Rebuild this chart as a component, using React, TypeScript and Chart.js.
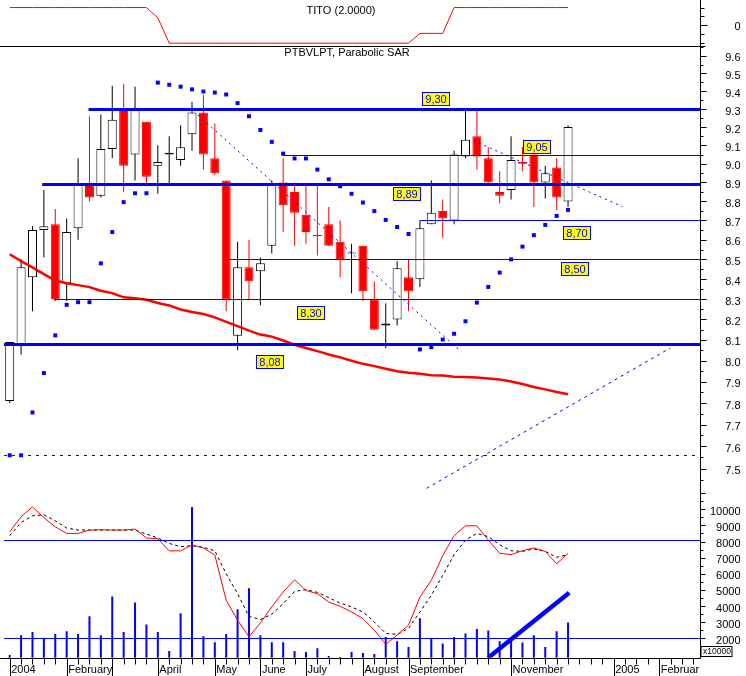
import React, { useEffect, useRef } from 'react';
import { Chart, registerables } from 'chart.js';

Chart.register(...registerables);

const FONT = '"Liberation Sans", Arial, Helvetica, sans-serif';
const RED = '#ff0000';
const BLUE = '#0000ff';

// ---- weekly bars (index 0 = week of 29 Dec 2003) ----
const weekIndex = [0,1,2,3,4,5,6,7,8,9,10,11,12,13,14,15,16,17,18,19,20,21,22,23,24,25,26,27,28,29,30,31,32,33,34,35,36,37,38,39,40,41,42,43,44,45,46,47,48,49];

const opens = [7.81, 8.07, 8.41, 8.65, 8.68, 8.38, 8.66, 8.89, 8.83, 9.08, 9.30, 9.05, 9.23, 8.99, 9.05, 9.02, 9.16, 9.28, 9.03, 8.91, 8.12, 8.46, 8.44, 8.57, 8.90, 8.85, 8.73, 8.625, 8.68, 8.59, 8.53, 8.57, 8.30, 8.17, 8.20, 8.41, 8.40, 8.68, 8.75, 8.70, 9.04, 9.15, 9.03, 8.85, 8.86, 9.01, 9.05, 8.90, 8.98, 8.80];
const highs = [8.09, 8.50, 8.67, 8.86, 8.76, 8.71, 9.03, 9.26, 9.27, 9.43, 9.44, 9.425, 9.23, 9.10, 9.15, 9.21, 9.34, 9.38, 9.22, 8.91, 8.59, 8.60, 8.51, 8.91, 9.03, 8.90, 8.885, 8.885, 8.77, 8.70, 8.58, 8.57, 8.39, 8.28, 8.49, 8.50, 8.70, 8.91, 8.81, 9.07, 9.30, 9.30, 9.09, 8.96, 9.15, 9.09, 9.05, 8.99, 9.03, 9.21];
const lows = [7.80, 8.03, 8.24, 8.51, 8.29, 8.29, 8.60, 8.80, 8.82, 9.03, 8.85, 8.91, 8.89, 8.84, 8.89, 8.99, 9.07, 8.97, 8.94, 8.24, 8.05, 8.30, 8.27, 8.53, 8.64, 8.57, 8.58, 8.52, 8.57, 8.41, 8.33, 8.29, 8.15, 8.06, 8.17, 8.24, 8.36, 8.68, 8.61, 8.68, 9.03, 8.97, 8.89, 8.79, 8.81, 8.96, 8.77, 8.815, 8.755, 8.77];
const closes = [8.09, 8.46, 8.65, 8.67, 8.30, 8.64, 8.89, 8.82, 9.08, 9.24, 8.99, 9.30, 8.93, 9.01, 9.06, 9.09, 9.28, 9.05, 8.95, 8.30, 8.46, 8.39, 8.48, 8.89, 8.78, 8.74, 8.64, 8.62, 8.57, 8.50, 8.53, 8.34, 8.15, 8.18, 8.455, 8.34, 8.66, 8.74, 8.71, 9.05, 9.13, 9.04, 8.90, 8.83, 9.02, 9.00, 8.90, 8.95, 8.82, 9.20];

const sar = [7.56, 7.56, 7.756, 7.941, 8.122, 8.272, 8.285, 8.285, 8.48, 8.64, 8.796, 8.843, 8.843, 9.448, 9.436, 9.425, 9.41, 9.398, 9.392, 9.381, 9.333, 9.26, 9.184, 9.119, 9.055, 9.029, 9.029, 8.969, 8.917, 8.88, 8.84, 8.794, 8.749, 8.703, 8.666, 8.63, 8.054, 8.065, 8.102, 8.13, 8.191, 8.283, 8.361, 8.433, 8.50, 8.565, 8.624, 8.677, 8.724, 8.755];

const movingAvg = [8.526, 8.491, 8.459, 8.425, 8.393, 8.379, 8.370, 8.360, 8.342, 8.330, 8.309, 8.304, 8.297, 8.281, 8.269, 8.249, 8.237, 8.227, 8.210, 8.188, 8.167, 8.145, 8.126, 8.116, 8.097, 8.077, 8.061, 8.046, 8.030, 8.016, 8.000, 7.985, 7.974, 7.962, 7.950, 7.943, 7.938, 7.931, 7.929, 7.924, 7.922, 7.920, 7.915, 7.910, 7.901, 7.889, 7.875, 7.864, 7.852, 7.841];

const volume = [970, 2200, 2390, 1980, 2270, 2450, 2270, 3370, 2200, 4600, 2390, 4230, 2860, 2390, 1220, 3560, 10140, 2140, 1770, 2270, 3800, 5100, 2200, 1770, 1770, 1220, 1160, 1390, 910, 850, 1160, 1100, 1030, 2080, 1820, 1470, 3250, 1960, 1690, 2080, 2310, 2590, 2490, 1830, 2080, 1750, 2200, 1470, 2450, 2990];

const oscMain = [8600, 9530, 10140, 9480, 8910, 8500, 8500, 8710, 8730, 8710, 8710, 8770, 8220, 8170, 7420, 7420, 7790, 7600, 7170, 4360, 3130, 2100, 2960, 3950, 4870, 5630, 4970, 4770, 4250, 3990, 3640, 3230, 2510, 1630, 2200, 2820, 4560, 5590, 7130, 8360, 8970, 8970, 8090, 7270, 7190, 7430, 7600, 7390, 6620, 7270];
const oscSignal = [8360, 9180, 9590, 9650, 9280, 8830, 8710, 8710, 8710, 8710, 8710, 8710, 8460, 8220, 7880, 7680, 7740, 7640, 7430, 6000, 4770, 3370, 3170, 3500, 4150, 4910, 5020, 4850, 4520, 4190, 3950, 3640, 3020, 2310, 2250, 2620, 3640, 4670, 5900, 7190, 8090, 8500, 8300, 7800, 7430, 7390, 7540, 7390, 7020, 7190];

const tito = [1, 1, 1, 1, 1, 1, 1, 1, 1, 1, 1, 1, 1, 0.42, -1, -1, -1, -1, -1, -1, -1, -1, -1, -1, -1, -1, -1, -1, -1, -1, -1, -1, -1, -1, -1, -1, -0.45, -0.45, -0.45, 1, 1, 1, 1, 1, 1, 1, 1, 1, 1, 1];

// drawn trend lines (week index, price)
const trend1 = [{ x: 16.52, y: 9.267 }, { x: 39.64, y: 8.042 }];
const trend2 = [{ x: 40.69, y: 9.126 }, { x: 53.78, y: 8.772 }];
const trend3 = [{ x: 36.59, y: 7.412 }, { x: 57.97, y: 8.061 }];
const volTrend = [{ x: 42, y: 810 }, { x: 49.1, y: 4830 }];

// support / resistance levels
const levelPrices = [9.30, 8.89, 8.08, 9.05, 8.70, 8.50, 8.30];
const levelStart = [6.92, 2.85, -0.5, 23.94, 36.0, 19.05, 3.87];
const levelHeavy = [true, true, true, false, false, false, false];
const dashedLevel = 7.56;
const oscLevels = [8120, 2000];

// level tags
const tagTexts = ['9,30', '8,89', '9,05', '8,70', '8,50', '8,30', '8,08'];
const tagIndex = [36.15, 33.68, 45.08, 48.52, 48.4, 25.18, 21.58];
const tagPrice = [9.356, 8.843, 9.094, 8.637, 8.452, 8.233, 7.997];

// axes
const monthTickIndex = [0, 5, 13, 18, 22, 26, 31, 35, 44, 53, 57];
const monthTickLabels = ['2004', 'February', 'April', 'May', 'June', 'July', 'August', 'September', 'November', '2005', 'Februar'];
const monthSeparators = [0, 5, 9, 13, 18, 22, 26, 31, 35, 44, 53, 57];
const priceTicks = [7.5, 7.6, 7.7, 7.8, 7.9, 8.0, 8.1, 8.2, 8.3, 8.4, 8.5, 8.6, 8.7, 8.8, 8.9, 9.0, 9.1, 9.2, 9.3, 9.4, 9.5, 9.6];
const volTicks = [2000, 3000, 4000, 5000, 6000, 7000, 8000, 9000, 10000];
const titoTicks = [0];

const AXIS_W = 40.5;
const RIGHT_GAP = 5.5;

const fitY = (s: any) => {
  s.width = AXIS_W;
  s.paddingTop = 0;
  s.paddingBottom = 0;
  s.paddingLeft = 0;
  s.paddingRight = 0;
};
const fitX = (s: any) => {
  s.height = 18.3;
  s.paddingTop = 0;
  s.paddingBottom = 0;
  s.paddingLeft = 0;
  s.paddingRight = 0;
};

const decor = {
  id: 'decor',
  afterDatasetsDraw(chart: any) {
    const { ctx, chartArea: ca, scales } = chart;
    const x = scales.x, ym = scales.yMain, yb = scales.yBot;
    ctx.save();
    ctx.beginPath();
    ctx.rect(ca.left, ca.top, ca.right - ca.left, ca.bottom - ca.top);
    ctx.clip();
    // price levels
    levelPrices.forEach((p, k) => {
      const py = Math.round(ym.getPixelForValue(p)) + 0.5;
      ctx.strokeStyle = BLUE;
      ctx.lineWidth = levelHeavy[k] ? 3 : 1;
      ctx.beginPath();
      ctx.moveTo(x.getPixelForValue(levelStart[k]), py);
      ctx.lineTo(ca.right, py);
      ctx.stroke();
    });
    // dashed level
    {
      const py = Math.round(ym.getPixelForValue(dashedLevel)) + 0.5;
      ctx.strokeStyle = BLUE;
      ctx.lineWidth = 1;
      ctx.setLineDash([3, 5]);
      ctx.beginPath();
      ctx.moveTo(ca.left, py);
      ctx.lineTo(ca.right, py);
      ctx.stroke();
      ctx.setLineDash([]);
    }
    // oscillator levels
    oscLevels.forEach((v) => {
      const py = Math.round(yb.getPixelForValue(v)) + 0.5;
      ctx.strokeStyle = BLUE;
      ctx.lineWidth = 1;
      ctx.beginPath();
      ctx.moveTo(ca.left, py);
      ctx.lineTo(ca.right, py);
      ctx.stroke();
    });
    // tags
    ctx.font = '11px ' + FONT;
    ctx.textAlign = 'center';
    ctx.textBaseline = 'middle';
    tagTexts.forEach((t, k) => {
      const lx = Math.round(x.getPixelForValue(tagIndex[k])) + 0.5;
      const cy = ym.getPixelForValue(tagPrice[k]);
      const ty = Math.round(cy - 6.5) + 0.5;
      ctx.fillStyle = '#ffff00';
      ctx.fillRect(lx, ty, 27, 13);
      ctx.strokeStyle = BLUE;
      ctx.lineWidth = 1;
      ctx.strokeRect(lx, ty, 27, 13);
      ctx.fillStyle = BLUE;
      ctx.fillText(t, lx + 13.5, ty + 7);
    });
    ctx.restore();
  },
  afterDraw(chart: any) {
    const { ctx, chartArea: ca, scales } = chart;
    const x = scales.x, ym = scales.yMain, yb = scales.yBot, yt = scales.yTop;
    ctx.save();
    ctx.strokeStyle = '#000';
    ctx.lineWidth = 1;
    const ax = Math.round(ca.right) + 0.5;
    const by = Math.round(ca.bottom) + 0.5;
    ctx.beginPath();
    // right axis line
    ctx.moveTo(ax, 0);
    ctx.lineTo(ax, by);
    // x axis line
    ctx.moveTo(0, by);
    ctx.lineTo(ax, by);
    // panel separator
    const sy = Math.round(yt.bottom) + 0.5;
    ctx.moveTo(0, sy);
    ctx.lineTo(ax + 5, sy);
    // top panel ticks
    [-1, -0.5, 0, 0.5, 1].forEach((v) => {
      const py = Math.round(yt.getPixelForValue(v)) + 0.5;
      ctx.moveTo(ax, py);
      ctx.lineTo(ax + (v === 0 ? 7 : 4), py);
    });
    // price ticks
    for (let k = 149; k <= 193; k++) {
      const py = Math.round(ym.getPixelForValue(k / 20)) + 0.5;
      ctx.moveTo(ax, py);
      ctx.lineTo(ax + (k % 2 === 0 ? 6 : 3), py);
    }
    // volume ticks
    for (let k = 2; k <= 22; k++) {
      const py = Math.round(yb.getPixelForValue(k * 500)) + 0.5;
      ctx.moveTo(ax, py);
      ctx.lineTo(ax + (k % 2 === 0 ? 5 : 3), py);
    }
    // x ticks
    for (let i = 0; i <= 60; i++) {
      const px = Math.round(x.getPixelForValue(i)) + 0.5;
      const long = monthSeparators.includes(i);
      ctx.moveTo(px, by);
      ctx.lineTo(px, long ? chart.height : by + 6);
    }
    ctx.stroke();

    // titles
    ctx.fillStyle = '#000';
    ctx.font = '11px ' + FONT;
    ctx.textAlign = 'center';
    ctx.textBaseline = 'middle';
    ctx.fillText('TITO (2.0000)', 341, 10.5);
    ctx.fillText('PTBVLPT, Parabolic SAR', 347, 52.5);

    // x10000 box
    ctx.clearRect(ax + 0.5, 646, 32, 11);
    ctx.strokeRect(ax + 0.5, 646.5, 31, 10);
    ctx.font = '8.5px ' + FONT;
    ctx.textAlign = 'left';
    ctx.fillText('x10000', ax + 2.5, 652);
    ctx.restore();
  },
};

const isDown = weekIndex.map((i) => closes[i] < opens[i]);

const noGrid = { display: false, drawTicks: false, tickLength: 0 };

export default function App() {
  const ref = useRef<HTMLCanvasElement>(null);

  useEffect(() => {
    const canvas = ref.current;
    if (!canvas) return;
    Chart.defaults.font.family = FONT;
    Chart.defaults.font.size = 11;
    Chart.defaults.color = '#000';

    const yTicks = (offset: number, cb: (v: any) => string) => ({
      crossAlign: 'far', padding: 4, labelOffset: offset, autoSkip: false, color: '#000', font: { size: 11, family: FONT }, callback: cb,
    });

    const chart = new Chart(canvas, {
      type: 'line',
      data: {
        datasets: [
          { type: 'line', label: 'Trend A', data: trend1, yAxisID: 'yMain', borderColor: BLUE, borderWidth: 1, borderDash: [2, 4], pointRadius: 0, order: 1 },
          { type: 'line', label: 'Trend B', data: trend2, yAxisID: 'yMain', borderColor: BLUE, borderWidth: 1, borderDash: [2, 4], pointRadius: 0, order: 1 },
          { type: 'line', label: 'Trend C', data: trend3, yAxisID: 'yMain', borderColor: BLUE, borderWidth: 1, borderDash: [3, 4], pointRadius: 0, order: 1 },
          { type: 'line', label: 'TITO', data: weekIndex.map((i) => ({ x: i, y: tito[i] })), yAxisID: 'yTop', borderColor: RED, borderWidth: 1, pointRadius: 0, order: 1 },
          { type: 'line', label: 'Parabolic SAR', data: weekIndex.map((i) => ({ x: i, y: sar[i] })), yAxisID: 'yMain', showLine: false, pointStyle: 'rect', pointRadius: 2.8, pointBackgroundColor: BLUE, pointBorderWidth: 0, order: 2 },
          { type: 'line', label: 'MA', data: weekIndex.map((i) => ({ x: i, y: movingAvg[i] })), yAxisID: 'yMain', borderColor: RED, borderWidth: 2.5, pointRadius: 0, order: 3 },
          { type: 'bar', label: 'Body', data: weekIndex.map((i) => ({ x: i, y: [opens[i], closes[i]] })), yAxisID: 'yMain', backgroundColor: isDown.map((d) => (d ? RED : '#ffffff')), borderColor: isDown.map((d) => (d ? RED : '#000000')), borderWidth: 1, borderSkipped: false, barThickness: 9, grouped: false, minBarLength: 1, inflateAmount: 0, order: 4 } as any,
          { type: 'bar', label: 'Wick', data: weekIndex.map((i) => ({ x: i, y: [lows[i], highs[i]] })), yAxisID: 'yMain', backgroundColor: isDown.map((d) => (d ? RED : '#000000')), borderWidth: 0, barThickness: 1, grouped: false, inflateAmount: 0, order: 5 } as any,
          { type: 'line', label: 'Volume trend', data: volTrend, yAxisID: 'yBot', borderColor: BLUE, borderWidth: 4.5, pointRadius: 0, order: 5 },
          { type: 'line', label: 'Oscillator', data: weekIndex.map((i) => ({ x: i, y: oscMain[i] })), yAxisID: 'yBot', borderColor: RED, borderWidth: 1, pointRadius: 0, order: 6 },
          { type: 'line', label: 'Signal', data: weekIndex.map((i) => ({ x: i, y: oscSignal[i] })), yAxisID: 'yBot', borderColor: '#000000', borderWidth: 1, borderDash: [3, 3], pointRadius: 0, order: 7 },
          { type: 'bar', label: 'Volume', data: weekIndex.map((i) => ({ x: i, y: volume[i] })), yAxisID: 'yBot', backgroundColor: BLUE, borderWidth: 0, barThickness: 2, grouped: false, inflateAmount: 0, order: 8 } as any,
        ],
      },
      options: {
        animation: false,
        responsive: false,
        events: [],
        layout: { padding: { left: 0, top: 0, bottom: 0, right: RIGHT_GAP } },
        elements: { line: { tension: 0 } },
        plugins: { legend: { display: false }, tooltip: { enabled: false } },
        scales: {
          x: {
            type: 'linear', position: 'bottom', min: -0.5, max: 60.58, offset: false,
            grid: noGrid, border: { display: false },
            afterBuildTicks: (s: any) => { s.ticks = monthTickIndex.map((v) => ({ value: v })); },
            afterFit: fitX,
            ticks: { autoSkip: false, maxRotation: 0, minRotation: 0, align: 'start', padding: 6, labelOffset: 1.5, color: '#000', font: { size: 11, family: FONT },
              callback: (_v: any, idx: number) => monthTickLabels[idx] ?? '' },
          },
          yTop: {
            type: 'linear', position: 'right', stack: 'panels', stackWeight: 42.3, weight: 1, min: -1.162, max: 1.2,
            grid: noGrid, border: { display: false },
            afterBuildTicks: (s: any) => { s.ticks = titoTicks.map((v) => ({ value: v })); },
            afterFit: fitY,
            ticks: yTicks(1.5, (v: any) => String(v)),
          },
          yMain: {
            type: 'logarithmic', position: 'right', stack: 'panels', stackWeight: 447.7, weight: 2, min: 7.413, max: 9.657,
            grid: noGrid, border: { display: false },
            afterBuildTicks: (s: any) => { s.ticks = priceTicks.map((v) => ({ value: v })); },
            afterFit: fitY,
            ticks: yTicks(2.5, (v: any) => Number(v).toFixed(1)),
          },
          yBot: {
            type: 'linear', position: 'right', stack: 'panels', stackWeight: 167.7, weight: 3, min: 806, max: 11126,
            grid: noGrid, border: { display: false },
            afterBuildTicks: (s: any) => { s.ticks = volTicks.map((v) => ({ value: v })); },
            afterFit: fitY,
            ticks: yTicks(2.5, (v: any) => String(v)),
          },
        } as any,
      },
      plugins: [decor],
    } as any);

    return () => chart.destroy();
  }, []);

  return (
    <div style={{ position: 'fixed', left: 0, top: 0, width: 746, height: 676, background: '#ffffff' }}>
      <canvas ref={ref} width={746} height={676} style={{ display: 'block', width: 746, height: 676 }} />
    </div>
  );
}
